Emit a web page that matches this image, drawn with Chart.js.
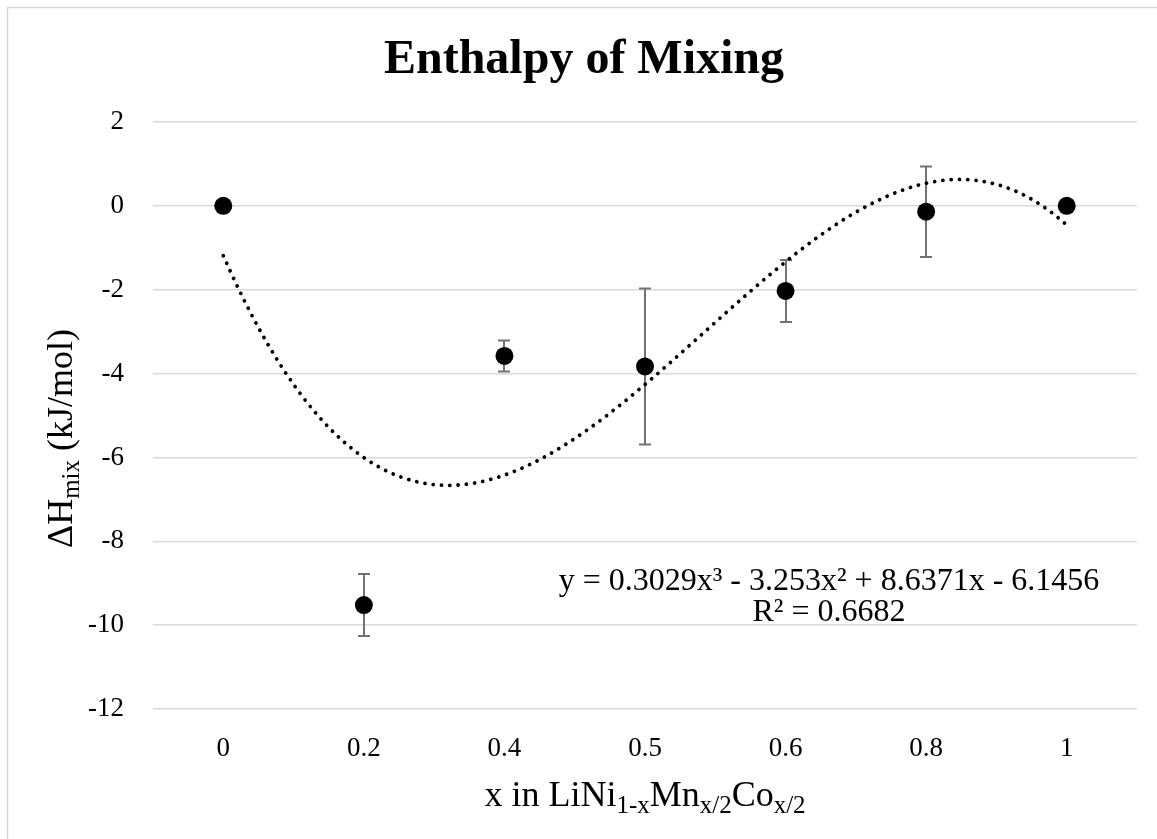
<!DOCTYPE html>
<html><head><meta charset="utf-8">
<script src="https://cdn.jsdelivr.net/npm/chart.js@4/dist/chart.umd.min.js"></script>
<style>html,body{margin:0;padding:0;background:#fff}#wrap{width:1157px;height:839px;position:relative}</style>
</head><body><div id="wrap"><canvas id="c" width="1157" height="839"></canvas></div>
<script>
// ---- data ----
const categories = ['0', '0.2', '0.4', '0.5', '0.6', '0.8', '1'];
const enthalpy = [0, -9.52, -3.58, -3.83, -2.03, -0.14, 0];
const errorPlusMinus = [0, 0.74, 0.37, 1.86, 0.74, 1.08, 0];
const yTickValues = [2, 0, -2, -4, -6, -8, -10, -12];
// cubic trendline coefficients shown on the chart (x^3, x^2, x, const)
const trendCoeffs = [0.3029, -3.253, 8.6371, -6.1456];
const equationText = 'y = 0.3029x\u00B3 - 3.253x\u00B2 + 8.6371x - 6.1456';
const r2Text = 'R\u00B2 = 0.6682';

const SERIF = '"Liberation Serif", "Times New Roman", serif';
const n = categories.length;

const scatterData = enthalpy.map((v, i) => ({x: i, y: v}));
// Excel fit uses x = 1..n on reversed order of categories
const trendData = [];
for (let k = 0; k <= 120; k++) {
  const i = k * (n - 1) / 120;
  const t = n - i;
  const y = ((trendCoeffs[0] * t + trendCoeffs[1]) * t + trendCoeffs[2]) * t + trendCoeffs[3];
  trendData.push({x: i, y: y});
}

function drawRich(ctx, parts, x, y, size, align) {
  let total = 0;
  const sub = Math.round(size * 0.7);
  const widths = parts.map(p => {
    ctx.font = (p[1] ? sub : size) + 'px ' + SERIF;
    const w = ctx.measureText(p[0]).width; total += w; return w;
  });
  let cx = align === 'center' ? x - total / 2 : x;
  parts.forEach((p, k) => {
    ctx.font = (p[1] ? sub : size) + 'px ' + SERIF;
    ctx.textAlign = 'left';
    ctx.textBaseline = 'alphabetic';
    ctx.fillText(p[0], cx, p[1] ? y + size * 0.2 : y);
    cx += widths[k];
  });
}

const decor = {
  id: 'decor',
  beforeDraw(chart) {
    const ctx = chart.ctx;
    ctx.save();
    ctx.fillStyle = '#fff';
    ctx.fillRect(0, 0, chart.width, chart.height);
    ctx.strokeStyle = '#d9d9d9';
    ctx.lineWidth = 1.5;
    ctx.strokeRect(7.5, 7.5, chart.width + 20, chart.height + 20);
    ctx.restore();
  },
  beforeDatasetsDraw(chart) {
    const ctx = chart.ctx;
    const xs = chart.scales.x, ys = chart.scales.y;
    ctx.save();
    ctx.strokeStyle = '#737373';
    ctx.lineWidth = 2;
    enthalpy.forEach((v, i) => {
      const e = errorPlusMinus[i];
      if (!e) return;
      const px = Math.round(xs.getPixelForValue(i));
      const top = ys.getPixelForValue(v + e), bot = ys.getPixelForValue(v - e);
      ctx.beginPath();
      ctx.moveTo(px, top); ctx.lineTo(px, bot);
      ctx.moveTo(px - 6, top); ctx.lineTo(px + 6, top);
      ctx.moveTo(px - 6, bot); ctx.lineTo(px + 6, bot);
      ctx.stroke();
    });
    ctx.restore();
  },
  afterDraw(chart) {
    const ctx = chart.ctx;
    const ca = chart.chartArea;
    ctx.save();
    ctx.fillStyle = '#000';
    // title
    ctx.font = 'bold 48px ' + SERIF;
    ctx.textAlign = 'center';
    ctx.textBaseline = 'alphabetic';
    ctx.fillText('Enthalpy of Mixing', 584, 73);
    // x axis title
    drawRich(ctx, [['x in LiNi', false], ['1-x', true], ['Mn', false], ['x/2', true], ['Co', false], ['x/2', true]],
      (ca.left + ca.right) / 2, 806, 36, 'center');
    // y axis title
    ctx.save();
    ctx.translate(72, (ca.top + ca.bottom) / 2 + 23);
    ctx.rotate(-Math.PI / 2);
    drawRich(ctx, [['\u0394H', false], ['mix', true], [' (kJ/mol)', false]], 0, 0, 36, 'center');
    ctx.restore();
    // trendline label
    ctx.font = '32px ' + SERIF;
    ctx.textAlign = 'center';
    ctx.textBaseline = 'alphabetic';
    ctx.fillText(equationText, 829, 590);
    ctx.fillText(r2Text, 829, 621);
    ctx.restore();
  }
};

new Chart(document.getElementById('c'), {
  type: 'scatter',
  data: {
    datasets: [
      {
        label: 'Enthalpy',
        data: scatterData,
        pointRadius: 9,
        pointHoverRadius: 9,
        pointBackgroundColor: '#000',
        pointBorderColor: '#000',
        pointBorderWidth: 0,
        showLine: false,
        order: 2
      },
      {
        label: 'Poly. trend',
        data: trendData,
        showLine: true,
        pointRadius: 0,
        borderColor: '#000',
        borderWidth: 3.8,
        borderDash: [0.01, 8.3],
        borderCapStyle: 'round',
        tension: 0,
        fill: false,
        order: 1
      }
    ]
  },
  options: {
    responsive: false,
    animation: false,
    events: [],
    layout: {padding: {left: 0, right: 20, top: 122, bottom: 0}},
    plugins: {legend: {display: false}, tooltip: {enabled: false}, title: {display: false}},
    scales: {
      x: {
        type: 'linear',
        min: -0.5,
        max: n - 0.5,
        afterBuildTicks: s => { s.ticks = categories.map((c, i) => ({value: i})); },
        afterFit: s => { s.height = 130; },
        ticks: {
          callback: (v) => categories[v],
          font: {family: SERIF, size: 27},
          color: '#000',
          padding: 24,
          maxRotation: 0,
          autoSkip: false
        },
        grid: {display: false, drawTicks: false},
        border: {display: false}
      },
      y: {
        min: -12,
        max: 2,
        afterBuildTicks: s => { s.ticks = yTickValues.map(v => ({value: v})); },
        afterFit: s => { s.width = 153; },
        ticks: {
          font: {family: SERIF, size: 27},
          color: '#000',
          padding: 29
        },
        grid: {color: '#d9d9d9', lineWidth: 1.5, drawTicks: false},
        border: {display: false}
      }
    }
  },
  plugins: [decor]
});
</script></body></html>
